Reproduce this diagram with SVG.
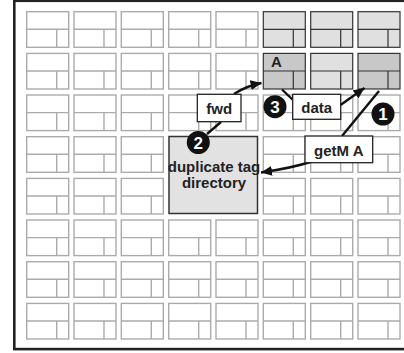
<svg xmlns="http://www.w3.org/2000/svg" xmlns:xlink="http://www.w3.org/1999/xlink" width="404" height="353" viewBox="0 0 404 353">
<style>
.c{fill:#fff;stroke:#ababab;stroke-width:1.4}
.g{fill:#e0e0e0;stroke:#333;stroke-width:1.2}
.d{fill:#c8c8c8;stroke:#333;stroke-width:1.2}
.lbl{fill:#fff;stroke:#222;stroke-width:1.3}
.t{font-family:"Liberation Sans",Arial,sans-serif;font-weight:bold;font-size:15px;fill:#222;text-anchor:middle}
.n{font-family:"Liberation Sans",Arial,sans-serif;font-weight:bold;font-size:17px;fill:#fff;text-anchor:middle}
.ln{fill:none;stroke:#111;stroke-width:2.4}
</style>
<defs>
<g id="cell"><rect x="0" y="0" width="42" height="35.6"/><path d="M0 17.6H42M30 17.6V35.6" fill="none"/></g>
<marker id="ah" markerUnits="userSpaceOnUse" markerWidth="12" markerHeight="10" refX="11" refY="5" orient="auto"><path d="M0 0L11 5L0 10Z" fill="#111"/></marker>
</defs>
<rect x="0" y="0" width="404" height="353" fill="#fff"/>
<rect id="frame" x="14.3" y="0.8" width="400" height="348.3" fill="#fff" stroke="#222" stroke-width="2.6"/>
<g id="grid">
<g id="row0"><use href="#cell" xlink:href="#cell" class="c" x="26.7" y="11.7"/><use href="#cell" xlink:href="#cell" class="c" x="74" y="11.7"/><use href="#cell" xlink:href="#cell" class="c" x="121.3" y="11.7"/><use href="#cell" xlink:href="#cell" class="c" x="168.7" y="11.7"/><use href="#cell" xlink:href="#cell" class="c" x="216" y="11.7"/><use href="#cell" xlink:href="#cell" class="g" x="263.3" y="11.7"/><use href="#cell" xlink:href="#cell" class="g" x="310.7" y="11.7"/><use href="#cell" xlink:href="#cell" class="g" x="358" y="11.7"/></g>
<g id="row1"><use href="#cell" xlink:href="#cell" class="c" x="26.7" y="53.4"/><use href="#cell" xlink:href="#cell" class="c" x="74" y="53.4"/><use href="#cell" xlink:href="#cell" class="c" x="121.3" y="53.4"/><use href="#cell" xlink:href="#cell" class="c" x="168.7" y="53.4"/><use href="#cell" xlink:href="#cell" class="c" x="216" y="53.4"/><use id="cellA" href="#cell" xlink:href="#cell" class="d" x="263.3" y="53.4"/><use href="#cell" xlink:href="#cell" class="g" x="310.7" y="53.4"/><use id="cellReq" href="#cell" xlink:href="#cell" class="d" x="358" y="53.4"/></g>
<g id="row2"><use href="#cell" xlink:href="#cell" class="c" x="26.7" y="95"/><use href="#cell" xlink:href="#cell" class="c" x="74" y="95"/><use href="#cell" xlink:href="#cell" class="c" x="121.3" y="95"/><use href="#cell" xlink:href="#cell" class="c" x="168.7" y="95"/><use href="#cell" xlink:href="#cell" class="c" x="216" y="95"/><use href="#cell" xlink:href="#cell" class="c" x="263.3" y="95"/><use href="#cell" xlink:href="#cell" class="c" x="310.7" y="95"/><use href="#cell" xlink:href="#cell" class="c" x="358" y="95"/></g>
<g id="row3"><use href="#cell" xlink:href="#cell" class="c" x="26.7" y="136.7"/><use href="#cell" xlink:href="#cell" class="c" x="74" y="136.7"/><use href="#cell" xlink:href="#cell" class="c" x="121.3" y="136.7"/><use href="#cell" xlink:href="#cell" class="c" x="263.3" y="136.7"/><use href="#cell" xlink:href="#cell" class="c" x="310.7" y="136.7"/><use href="#cell" xlink:href="#cell" class="c" x="358" y="136.7"/></g>
<g id="row4"><use href="#cell" xlink:href="#cell" class="c" x="26.7" y="178.4"/><use href="#cell" xlink:href="#cell" class="c" x="74" y="178.4"/><use href="#cell" xlink:href="#cell" class="c" x="121.3" y="178.4"/><use href="#cell" xlink:href="#cell" class="c" x="263.3" y="178.4"/><use href="#cell" xlink:href="#cell" class="c" x="310.7" y="178.4"/><use href="#cell" xlink:href="#cell" class="c" x="358" y="178.4"/></g>
<g id="row5"><use href="#cell" xlink:href="#cell" class="c" x="26.7" y="220"/><use href="#cell" xlink:href="#cell" class="c" x="74" y="220"/><use href="#cell" xlink:href="#cell" class="c" x="121.3" y="220"/><use href="#cell" xlink:href="#cell" class="c" x="168.7" y="220"/><use href="#cell" xlink:href="#cell" class="c" x="216" y="220"/><use href="#cell" xlink:href="#cell" class="c" x="263.3" y="220"/><use href="#cell" xlink:href="#cell" class="c" x="310.7" y="220"/><use href="#cell" xlink:href="#cell" class="c" x="358" y="220"/></g>
<g id="row6"><use href="#cell" xlink:href="#cell" class="c" x="26.7" y="261.7"/><use href="#cell" xlink:href="#cell" class="c" x="74" y="261.7"/><use href="#cell" xlink:href="#cell" class="c" x="121.3" y="261.7"/><use href="#cell" xlink:href="#cell" class="c" x="168.7" y="261.7"/><use href="#cell" xlink:href="#cell" class="c" x="216" y="261.7"/><use href="#cell" xlink:href="#cell" class="c" x="263.3" y="261.7"/><use href="#cell" xlink:href="#cell" class="c" x="310.7" y="261.7"/><use href="#cell" xlink:href="#cell" class="c" x="358" y="261.7"/></g>
<g id="row7"><use href="#cell" xlink:href="#cell" class="c" x="26.7" y="303.4"/><use href="#cell" xlink:href="#cell" class="c" x="74" y="303.4"/><use href="#cell" xlink:href="#cell" class="c" x="121.3" y="303.4"/><use href="#cell" xlink:href="#cell" class="c" x="168.7" y="303.4"/><use href="#cell" xlink:href="#cell" class="c" x="216" y="303.4"/><use href="#cell" xlink:href="#cell" class="c" x="263.3" y="303.4"/><use href="#cell" xlink:href="#cell" class="c" x="310.7" y="303.4"/><use href="#cell" xlink:href="#cell" class="c" x="358" y="303.4"/></g>
</g>
<g id="labelA"><text class="t" x="276.5" y="66.5" font-size="14">A</text></g>
<g id="directory"><rect x="169" y="136.5" width="88.5" height="77" fill="#e2e2e2" stroke="#333" stroke-width="1.5"/><text class="t" x="214" y="172" font-size="14">duplicate tag</text><text class="t" x="214" y="188" font-size="14">directory</text></g>
<g id="connectors">
<path class="ln" d="M234 94Q246 86 261.5 83" marker-end="url(#ah)"/>
<path class="ln" d="M207 134L221 122"/>
<path class="ln" d="M282 89.5L293 100"/>
<path class="ln" d="M340.5 105L364.5 88" marker-end="url(#ah)"/>
<path class="ln" d="M379 91L342 136"/>
<path class="ln" d="M312 161.5Q292 168 261 172.5" marker-end="url(#ah)"/>
</g>
<g id="fwd"><rect class="lbl" x="197.3" y="94.3" width="43.7" height="27.4"/><text class="t" x="219.2" y="114" font-size="15.5">fwd</text></g>
<g id="data"><rect class="lbl" x="292.7" y="94.3" width="48" height="25"/><text class="t" x="316.7" y="112.5">data</text></g>
<g id="getM"><rect class="lbl" x="305" y="136" width="67.7" height="26.7"/><text class="t" x="338.8" y="156">getM A</text></g>
<g id="step1"><circle cx="383" cy="114" r="11.5" fill="#111"/><text class="n" x="383" y="120">1</text></g>
<g id="step2"><circle cx="198.3" cy="142.5" r="11.5" fill="#111"/><text class="n" x="198.3" y="148.5">2</text></g>
<g id="step3"><circle cx="275" cy="106.7" r="11.5" fill="#111"/><text class="n" x="275" y="112.7">3</text></g>
</svg>
